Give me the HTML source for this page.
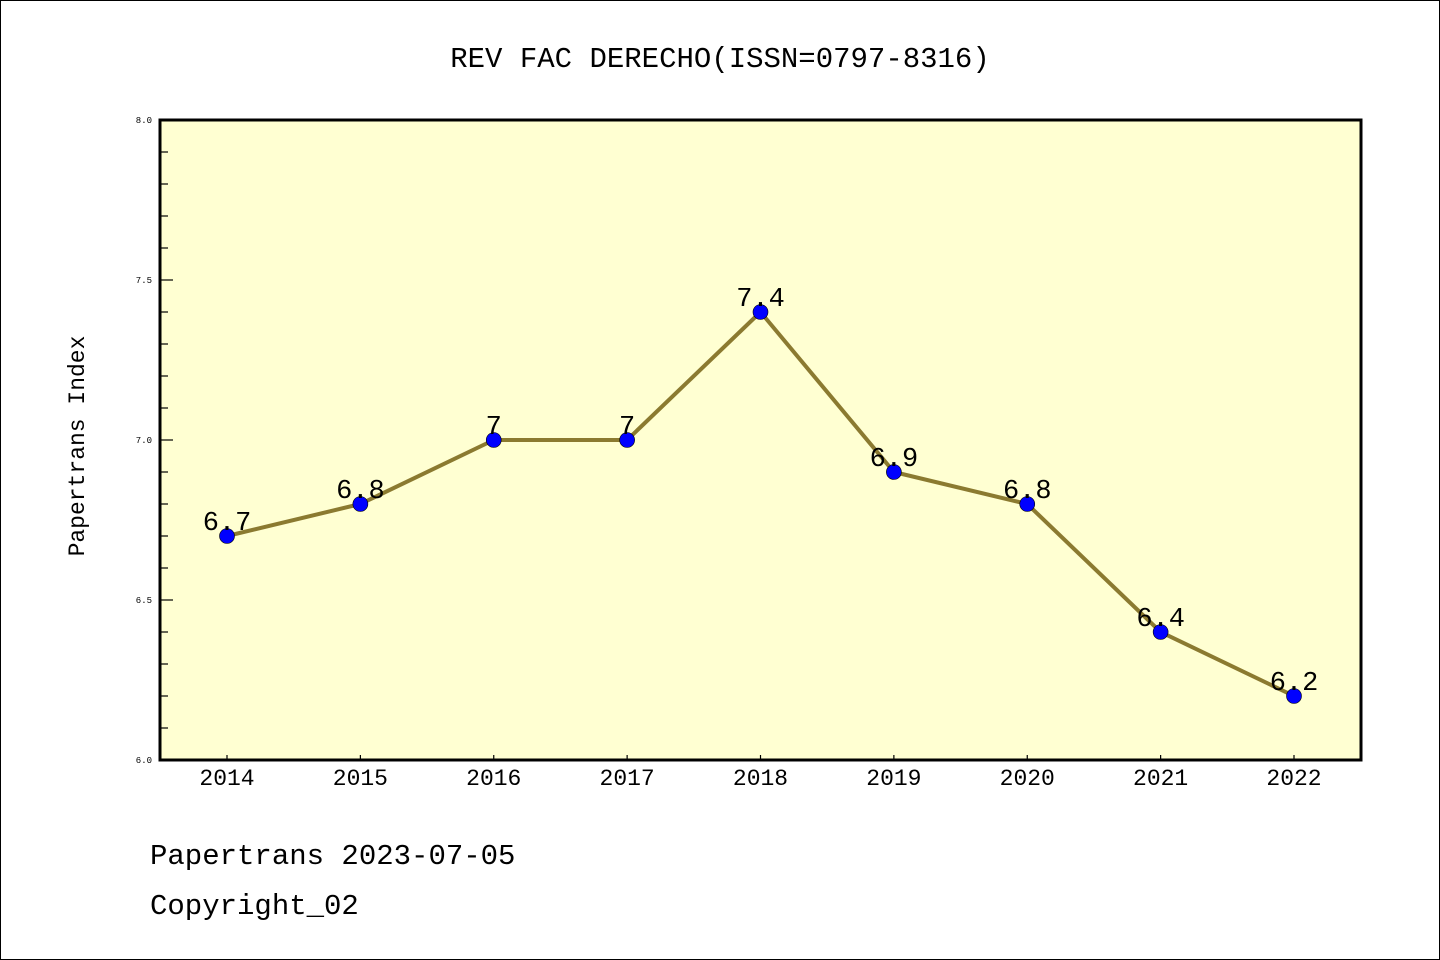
<!DOCTYPE html>
<html><head><meta charset="utf-8"><style>
body{margin:0;background:#fff}
svg{display:block}
text{font-family:"Liberation Mono","DejaVu Sans Mono",monospace}
</style></head><body>
<svg width="1440" height="960">
<rect x="0.5" y="0.5" width="1439" height="959" fill="#fff" stroke="#000"/>
<text x="720" y="67" text-anchor="middle" font-size="29">REV FAC DERECHO(ISSN=0797-8316)</text>
<rect x="160" y="120" width="1201" height="640" fill="#ffffd2"/>
<g id="axes"></g>
<g id="series"></g>
<rect x="160" y="120" width="1201" height="640" fill="none" stroke="#000" stroke-width="3"/>
<text transform="translate(84,446) rotate(-90)" text-anchor="middle" font-size="23">Papertrans Index</text>
<text x="150" y="864" font-size="29">Papertrans 2023-07-05</text>
<text x="150" y="914" font-size="29">Copyright_02</text>
</svg>
<script>
const years=["2014","2015","2016","2017","2018","2019","2020","2021","2022"];
const values=[6.7,6.8,7,7,7.4,6.9,6.8,6.4,6.2];
const labels=["6.7","6.8","7","7","7.4","6.9","6.8","6.4","6.2"];
const yTicks=["6.0","6.5","7.0","7.5","8.0"];
const NS="http://www.w3.org/2000/svg";
const yMin=6,yMax=8;
function ys(v){return 760-(v-yMin)/(yMax-yMin)*640;}
function xs(i){return 227+i*(1294-227)/(years.length-1);}
function mk(t,a,p){const e=document.createElementNS(NS,t);for(const k in a)e.setAttribute(k,a[k]);p.appendChild(e);return e;}
const ax=document.getElementById('axes'),se=document.getElementById('series');
for(let v=yMin;v<=yMax+1e-9;v+=0.1){
  const major=Math.abs(v*2-Math.round(v*2))<1e-6;
  const l=mk('line',{x1:160,x2:major?173:168,y1:ys(v),y2:ys(v),stroke:'#000','stroke-width':1.2},ax);
  
  
}
yTicks.forEach(t=>{
  const e=mk('text',{x:152,y:ys(+t)+3,'text-anchor':'end','font-size':9},ax);e.textContent=t;
  
  
});
years.forEach((y,i)=>{
  const l=mk('line',{x1:xs(i),x2:xs(i),y1:760,y2:755,stroke:'#000','stroke-width':1.2},ax);
  
  
  const e=mk('text',{x:xs(i),y:785,'text-anchor':'middle','font-size':23,'font-family':'Liberation Sans, sans-serif'},ax);e.textContent=y;
  
  
});
const pl=mk('polyline',{points:values.map((v,i)=>xs(i)+','+ys(v)).join(' '),fill:'none',stroke:'#8b7a30','stroke-width':4,'stroke-linejoin':'round'},se);


values.forEach((v,i)=>{
  const c=mk('circle',{cx:xs(i),cy:ys(v),r:7.5,fill:'#0000ff',stroke:'#000','stroke-width':0.6},se);
  
  
  const t=mk('text',{x:xs(i),y:ys(v)-6,'text-anchor':'middle','font-size':27},se);t.textContent=labels[i];
  
  
});
</script>
</body></html>
